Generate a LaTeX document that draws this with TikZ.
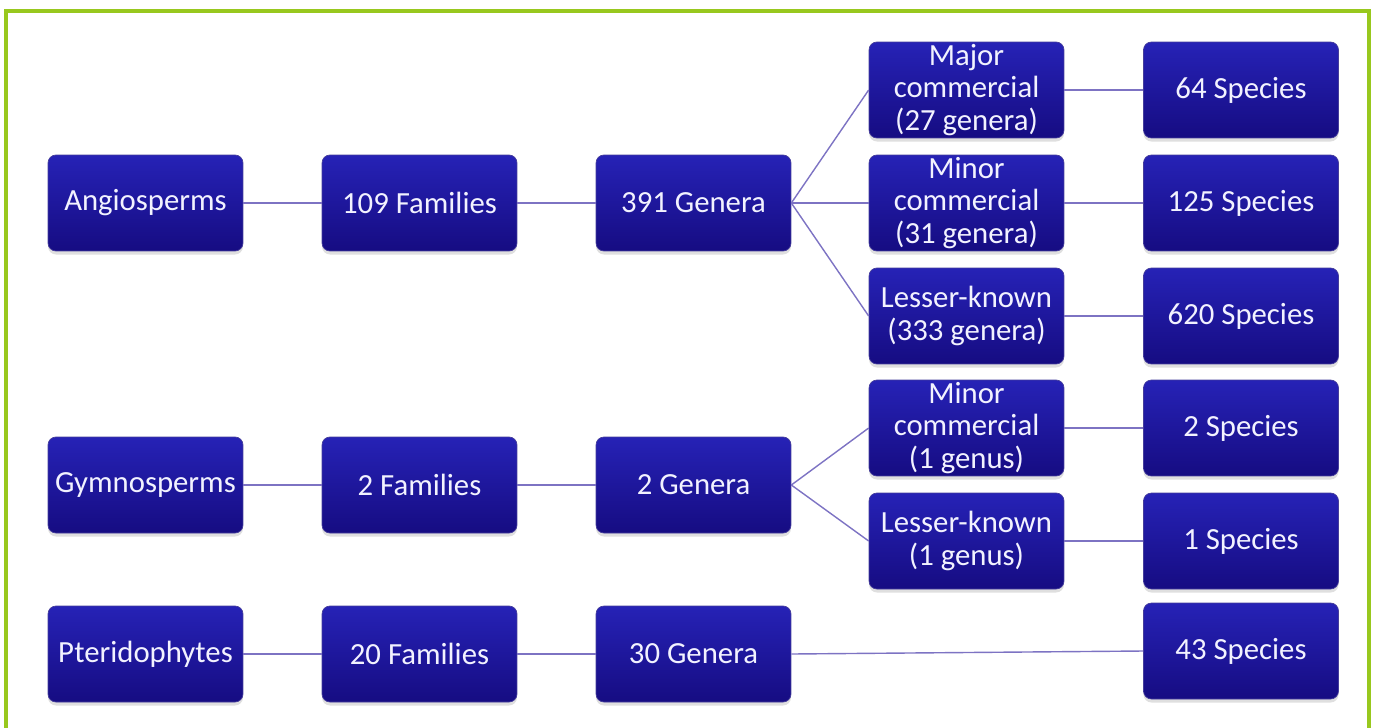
\documentclass[tikz,border=0pt]{standalone}
\usepackage{fontspec}
\setmainfont{Carlito}
\usetikzlibrary{shadows}
\definecolor{BoxTop}{RGB}{38,34,182}
\definecolor{BoxBottom}{RGB}{22,12,130}
\definecolor{LinkColor}{RGB}{125,115,195}
\definecolor{FrameColor}{RGB}{152,200,30}
\tikzstyle{taxon} = [rectangle, rounded corners=4.5pt, minimum width=3.9cm, minimum height=1.92cm, top color=BoxTop, bottom color=BoxBottom, draw=BoxBottom!80, text=white!95!blue, align=center, inner sep=1pt, font=\fontsize{17.5}{18.7}\selectfont, drop shadow={shadow xshift=0pt, shadow yshift=-2pt, opacity=0.25}]
\tikzstyle{link} = [LinkColor, line width=0.8pt]

\begin{document}
\begin{tikzpicture}[x=0.02cm, y=-0.02cm]
            \useasboundingbox (0,0) rectangle (1375,727);
            % frame, open at the bottom
            \draw[FrameColor, line width=2pt] (6,740) -- (6,11) -- (1369,11) -- (1369,740);

            % group, families, genera
            \foreach \grp/\y/\first/\second/\third in {a/203/Angiosperms/109 Families/391 Genera, g/485/Gymnosperms/2 Families/2 Genera, p/654/Pteridophytes/20 Families/30 Genera} {
                    \node[taxon] (\grp1) at (145.5,\y) {\first};
                    \node[taxon] (\grp2) at (419.5,\y) {\second};
                    \node[taxon] (\grp3) at (693.5,\y) {\third};
                }

            % commercial status
            \node[taxon] (amajor) at (966.5,90) {Major\\commercial\\(27 genera)};
            \node[taxon] (aminor) at (966.5,203) {Minor\\commercial\\(31 genera)};
            \node[taxon] (alesser) at (966.5,316) {Lesser-known\\(333 genera)};
            \node[taxon] (gminor) at (966.5,428) {Minor\\commercial\\(1 genus)};
            \node[taxon] (glesser) at (966.5,541) {Lesser-known\\(1 genus)};

            % species
            \node[taxon] (sp64) at (1241,90) {64 Species};
            \node[taxon] (sp125) at (1241,203) {125 Species};
            \node[taxon] (sp620) at (1241,316) {620 Species};
            \node[taxon] (sp2) at (1241,428) {2 Species};
            \node[taxon] (sp1) at (1241,541) {1 Species};
            \node[taxon] (sp43) at (1241,651) {43 Species};

            % links
            \foreach \grp in {a, g, p} {
                    \draw[link] (\grp1.east) -- (\grp2.west);
                    \draw[link] (\grp2.east) -- (\grp3.west);
                }
            \foreach \from/\to in {a3/amajor, a3/aminor, a3/alesser, g3/gminor, g3/glesser, amajor/sp64, aminor/sp125, alesser/sp620, gminor/sp2, glesser/sp1, p3/sp43} {
                    \draw[link] (\from.east) -- (\to.west);
                }
        \end{tikzpicture}
\end{document}
